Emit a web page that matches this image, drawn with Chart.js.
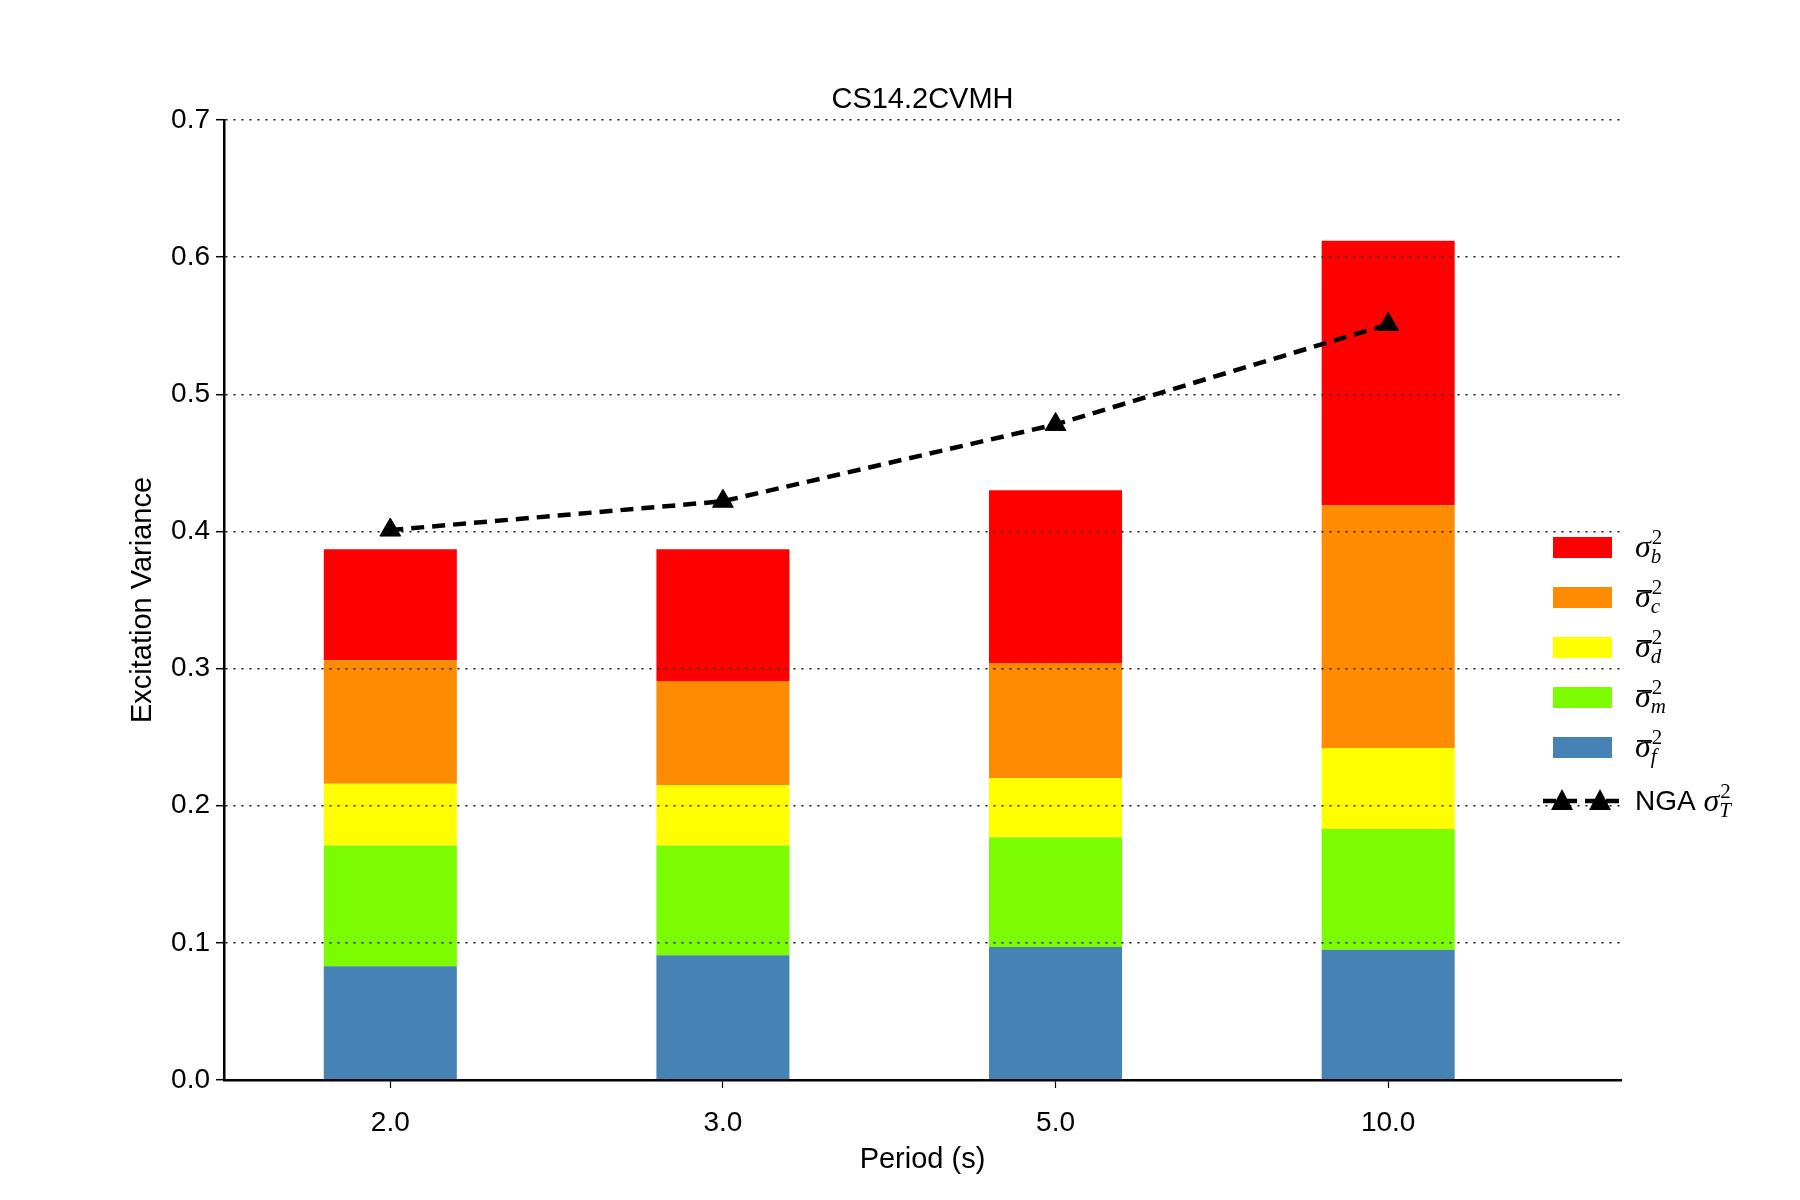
<!DOCTYPE html>
<html>
<head>
<meta charset="utf-8">
<script src="https://cdn.jsdelivr.net/npm/chart.js@4.4.1/dist/chart.umd.min.js"></script>
<style>
    body { margin: 0; background: #fff; }
    #wrap { width: 1800px; height: 1200px; }
</style>
</head>
<body>
<div id="wrap"><canvas id="varChart" width="1800" height="1200"></canvas></div>
<script>
// periods on the x axis
const periods = ['2.0', '3.0', '5.0', '10.0'];
const yTicks = [0, 0.1, 0.2, 0.3, 0.4, 0.5, 0.6, 0.7];

// stacked components, bottom to top
const sigmaF = [0.083, 0.091, 0.097, 0.095];
const sigmaM = [0.088, 0.080, 0.080, 0.088];
const sigmaD = [0.045, 0.044, 0.043, 0.059];
const sigmaC = [0.090, 0.076, 0.084, 0.177];
const sigmaB = [0.081, 0.096, 0.126, 0.193];
const ngaTotal = [0.401, 0.422, 0.478, 0.551];

const chartTitle = 'CS14.2CVMH';
const barSubs = ['f', 'm', 'd', 'c', 'b'];
const barColors = ['#4682b4', '#7cfc00', '#ffff00', '#ff8c00', '#ff0000'];

const sans = '"Liberation Sans", Arial, sans-serif';
const serif = '"Liberation Serif", "DejaVu Serif", serif';

function toPoints(vals) {
    return vals.map((v, i) => ({ x: i, y: v }));
}

const barSeries = [sigmaF, sigmaM, sigmaD, sigmaC, sigmaB];
const datasets = barSeries.map((vals, k) => ({
    type: 'bar',
    label: 'sigma_' + barSubs[k],
    data: toPoints(vals),
    backgroundColor: barColors[k],
    borderWidth: 0,
    categoryPercentage: 1,
    barPercentage: 0.4,
    order: 1
}));

datasets.push({
    type: 'line',
    label: 'NGA sigma_T',
    data: toPoints(ngaTotal),
    borderColor: '#000',
    borderWidth: 4.5,
    borderDash: [13, 8],
    tension: 0,
    fill: false,
    pointStyle: 'triangle',
    pointRadius: 12,
    pointBackgroundColor: '#000',
    pointBorderColor: '#000',
    pointBorderWidth: 1,
    order: 0
});

// sigma with superscript 2 and a subscript, like the matplotlib mathtext labels
function drawSigma(ctx, x, yc, sub, bar) {
    ctx.fillStyle = '#000';
    ctx.textAlign = 'left';
    ctx.textBaseline = 'alphabetic';
    ctx.font = 'italic 32px ' + serif;
    ctx.fillText('σ', x, yc + 10);
    const w = ctx.measureText('σ').width;
    if (bar) {
        ctx.fillRect(x + 2, yc - 7, w - 1, 1.8);
    }
    ctx.font = '21px ' + serif;
    ctx.fillText('2', x + w + 1, yc - 3);
    ctx.font = 'italic 21px ' + serif;
    ctx.fillText(sub, x + w, yc + 16);
}

const mathLegend = {
    id: 'mathLegend',
    afterDraw(chart) {
        const ctx = chart.ctx;
        const area = chart.chartArea;
        ctx.save();

        // title
        ctx.fillStyle = '#000';
        ctx.font = '29px ' + sans;
        ctx.textAlign = 'center';
        ctx.textBaseline = 'middle';
        ctx.fillText(chartTitle, (area.left + area.right) / 2, 100);

        const boxX = 1553, textX = 1635;
        let y = 547;
        for (let k = barSubs.length - 1; k >= 0; k--) {
            ctx.fillStyle = barColors[k];
            ctx.fillRect(boxX, y - 10, 59, 21);
            drawSigma(ctx, textX, y, barSubs[k], barSubs[k] !== 'b');
            y += 50;
        }

        // NGA entry: dashed line with two triangles
        y = 801;
        ctx.strokeStyle = '#000';
        ctx.lineWidth = 4.5;
        ctx.setLineDash([13, 8]);
        ctx.beginPath();
        ctx.moveTo(1543, y);
        ctx.lineTo(1620, y);
        ctx.stroke();
        ctx.setLineDash([]);
        [1562, 1600].forEach(cx => {
            ctx.beginPath();
            ctx.moveTo(cx, y - 12);
            ctx.lineTo(cx + 11, y + 9);
            ctx.lineTo(cx - 11, y + 9);
            ctx.closePath();
            ctx.fillStyle = '#000';
            ctx.fill();
        });
        ctx.fillStyle = '#000';
        ctx.font = '28px ' + sans;
        ctx.textAlign = 'left';
        ctx.textBaseline = 'alphabetic';
        ctx.fillText('NGA', textX, y + 9);
        const nw = ctx.measureText('NGA ').width;
        drawSigma(ctx, textX + nw, y, 'T', false);

        ctx.restore();
    }
};

const ctx = document.getElementById('varChart').getContext('2d');
const varChart = new Chart(ctx, {
    data: { datasets: datasets },
    options: {
        responsive: false,
        animation: false,
        devicePixelRatio: 1,
        layout: { padding: { top: 120, right: 179, bottom: 0, left: 0 } },
        plugins: {
            legend: { display: false },
            title: { display: false },
            tooltip: { enabled: false }
        },
        scales: {
            x: {
                type: 'linear',
                position: 'bottom',
                stacked: true,
                offset: false,
                min: -0.5,
                max: 3.7,
                afterBuildTicks: scale => {
                    scale.ticks = periods.map((p, i) => ({ value: i }));
                },
                afterFit: scale => { scale.height = 120; },
                ticks: {
                    callback: value => periods[value],
                    color: '#000',
                    font: { family: sans, size: 28 },
                    padding: 18,
                    maxRotation: 0
                },
                grid: {
                    offset: false,
                    drawOnChartArea: false,
                    tickLength: 8,
                    tickColor: '#000',
                    tickWidth: 1.2
                },
                border: { color: '#000', width: 2.5, z: 1 },
                title: {
                    display: true,
                    text: 'Period (s)',
                    color: '#000',
                    font: { family: sans, size: 29 },
                    padding: { top: 0, bottom: 23 }
                }
            },
            y: {
                type: 'linear',
                position: 'left',
                stacked: true,
                min: 0,
                max: 0.7,
                afterBuildTicks: scale => {
                    scale.ticks = yTicks.map(v => ({ value: v }));
                },
                afterFit: scale => { scale.width = 224; },
                ticks: {
                    callback: value => value.toFixed(1),
                    color: '#000',
                    font: { family: sans, size: 28 },
                    padding: 6
                },
                grid: {
                    color: '#111',
                    lineWidth: 1.4,
                    tickLength: 8,
                    tickColor: '#000',
                    tickWidth: 1.5,
                    tickBorderDash: [],
                    z: 1
                },
                border: { color: '#000', width: 2.5, dash: [2, 6], z: 1 },
                title: {
                    display: true,
                    text: 'Excitation Variance',
                    color: '#000',
                    font: { family: sans, size: 29 },
                    padding: { top: 126, bottom: 0 }
                }
            }
        }
    },
    plugins: [mathLegend]
});
</script>
</body>
</html>
